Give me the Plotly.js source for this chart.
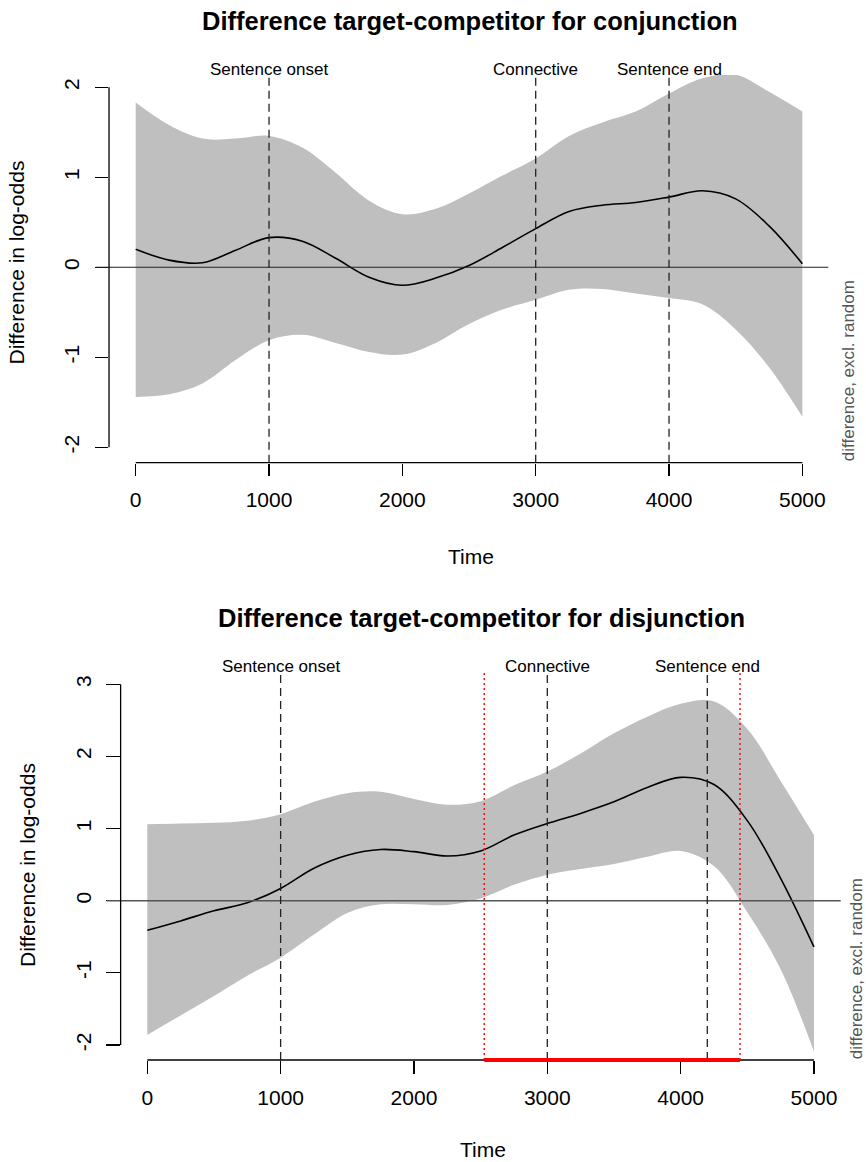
<!DOCTYPE html>
<html>
<head>
<meta charset="utf-8">
<script src="https://cdn.plot.ly/plotly-3.0.1.min.js"></script>
<style>html,body{margin:0;padding:0;background:#fff;}#chart{width:866px;height:1162px;}</style>
</head>
<body>
<div id="chart"></div>
<script>
// ---- data: conjunction (top panel) ----
const timeTop  = [0, 250, 500, 750, 1000, 1250, 1500, 1750, 2000, 2250, 2500, 2750, 3000, 3250, 3500, 3750, 4000, 4250, 4500, 4750, 5000];
const upperTop = [1.83, 1.58, 1.43, 1.43, 1.46, 1.33, 1.05, 0.74, 0.59, 0.65, 0.82, 1.02, 1.21, 1.46, 1.61, 1.73, 1.93, 2.10, 2.14, 1.95, 1.73];
const lowerTop = [-1.44, -1.41, -1.29, -1.03, -0.81, -0.75, -0.84, -0.94, -0.97, -0.84, -0.63, -0.47, -0.36, -0.25, -0.24, -0.29, -0.34, -0.41, -0.69, -1.11, -1.66];
const fitTop   = [0.20, 0.08, 0.05, 0.19, 0.33, 0.29, 0.10, -0.11, -0.20, -0.12, 0.02, 0.22, 0.43, 0.62, 0.69, 0.72, 0.78, 0.85, 0.76, 0.46, 0.04];
const eventsTop = [1000, 3000, 4000];

// ---- data: disjunction (bottom panel) ----
const timeBottom  = [0, 250, 500, 750, 1000, 1250, 1500, 1750, 2000, 2250, 2500, 2750, 3000, 3250, 3500, 3750, 4000, 4250, 4500, 4750, 5000];
const upperBottom = [1.06, 1.07, 1.08, 1.11, 1.20, 1.37, 1.49, 1.51, 1.41, 1.33, 1.38, 1.60, 1.79, 2.04, 2.32, 2.55, 2.73, 2.76, 2.38, 1.66, 0.91];
const lowerBottom = [-1.86, -1.59, -1.32, -1.04, -0.79, -0.47, -0.17, -0.05, -0.05, -0.06, 0.03, 0.22, 0.36, 0.44, 0.51, 0.61, 0.69, 0.48, -0.16, -0.95, -2.09];
const fitBottom   = [-0.41, -0.28, -0.14, -0.03, 0.17, 0.45, 0.63, 0.71, 0.68, 0.62, 0.69, 0.91, 1.07, 1.21, 1.37, 1.57, 1.71, 1.61, 1.11, 0.31, -0.64];
const eventsBottom = [1000, 3000, 4200];
const sigRegion = [2527, 4445];

// ---- labels / ticks ----
const eventLabels = ['Sentence onset', 'Connective', 'Sentence end'];
const titles = ['Difference target-competitor for conjunction', 'Difference target-competitor for disjunction'];
const xTicks = [0, 1000, 2000, 3000, 4000, 5000];
const yTicksTop = [-2, -1, 0, 1, 2];
const yTicksBottom = [-2, -1, 0, 1, 2, 3];
const xTitle = 'Time';
const yTitle = 'Difference in log-odds';
const sideNote = 'difference, excl. random';

// ---- geometry (pixels) ----
const W = 866, H = 1162;
const FONT = 'Liberation Sans, Arial, Helvetica, sans-serif';
const px = p => p / W;
const py = p => 1 - p / H;

const panels = [
  {xl: 109.03, xr: 829.03, yt: 75.0, yb: 462.7, yr: [-2.1711, 2.1367], zl: 95.7, zr: 828.3, zcol: '#222', zw: 1.1,
   titleY: 21, labY: 70, timeY: 556, timeAnchor: 'middle', yTitleX: 16, yTitleY: 262.5, noteX: 848, yTicks: yTicksTop, events: eventsTop},
  {xl: 120.63, xr: 840.63, yt: 671.7, yb: 1060.0, yr: [-2.2082, 3.1744], zl: 106.7, zr: 840.7, zcol: '#555', zw: 1.5,
   titleY: 618, labY: 666.7, timeY: 1162, timeAnchor: 'bottom', yTitleX: 28, yTitleY: 865, noteX: 856.7, yTicks: yTicksBottom, events: eventsBottom}
];

const series = [
  {t: timeTop, up: upperTop, lo: lowerTop, fit: fitTop},
  {t: timeBottom, up: upperBottom, lo: lowerBottom, fit: fitBottom}
];

const traces = [];
const shapes = [];
const annotations = [];
const layout = {
  width: W, height: H, margin: {l: 0, r: 0, t: 0, b: 0, pad: 0},
  paper_bgcolor: '#fff', plot_bgcolor: 'rgba(0,0,0,0)', showlegend: false,
  font: {family: FONT, color: '#000'}
};

panels.forEach((p, i) => {
  const n = i === 0 ? '' : '2';
  const xa = 'x' + n, ya = 'y' + n;
  const s = series[i];
  traces.push({x: s.t, y: s.lo, xaxis: xa, yaxis: ya, mode: 'lines', line: {width: 0, shape: 'spline', color: '#BFBFBF'}, hoverinfo: 'skip'});
  traces.push({x: s.t, y: s.up, xaxis: xa, yaxis: ya, mode: 'lines', fill: 'tonexty', fillcolor: '#BFBFBF', line: {width: 0, shape: 'spline', color: '#BFBFBF'}, hoverinfo: 'skip'});
  traces.push({x: s.t, y: s.fit, xaxis: xa, yaxis: ya, mode: 'lines', line: {width: 1.6, shape: 'spline', color: '#000'}});

  layout['xaxis' + n] = {
    domain: [px(p.xl), px(p.xr)], range: [-200, 5200], anchor: ya,
    showgrid: false, zeroline: false, showline: false,
    ticks: 'outside', ticklen: 12.5, tickwidth: 1.3, tickcolor: '#000',
    tickvals: xTicks, ticktext: xTicks.map(String), tickfont: {size: 21, family: FONT, color: '#000'},
    ticklabelstandoff: 6, fixedrange: true
  };
  layout['yaxis' + n] = {
    domain: [py(p.yb), py(p.yt)], range: p.yr, anchor: xa,
    showgrid: false, zeroline: false, showline: false,
    ticks: 'outside', ticklen: 13.5, tickwidth: 1.3, tickcolor: '#000',
    tickvals: p.yTicks, ticktext: p.yTicks.map(String), tickangle: -90,
    tickfont: {size: 21, family: FONT, color: '#000'}, ticklabelstandoff: 7, fixedrange: true
  };

  // zero line
  shapes.push({type: 'line', xref: 'paper', yref: ya, x0: px(p.zl), x1: px(p.zr), y0: 0, y1: 0, line: {color: p.zcol, width: p.zw}});
  // event lines
  p.events.forEach(ev => {
    shapes.push({type: 'line', xref: xa, yref: ya + ' domain', x0: ev, x1: ev, y0: 0, y1: 1, line: {color: '#222', width: 1.3, dash: '8px,5px'}});
  });
  // axis lines (R style, spanning tick range only)
  shapes.push({type: 'line', xref: xa, yref: 'paper', x0: xTicks[0], x1: xTicks[xTicks.length - 1], y0: py(p.yb), y1: py(p.yb), line: {color: '#000', width: 1.3}});
  shapes.push({type: 'line', xref: 'paper', yref: ya, x0: px(p.xl), x1: px(p.xl), y0: p.yTicks[0], y1: p.yTicks[p.yTicks.length - 1], line: {color: '#000', width: 1.3}});

  // titles and labels
  annotations.push({text: '<b>' + titles[i] + '</b>', xref: 'paper', yref: 'paper', x: px((p.xl + p.xr) / 2 + 1), y: py(p.titleY), xanchor: 'center', yanchor: 'middle', showarrow: false, font: {size: 25.5, family: FONT, color: '#000'}});
  p.events.forEach((ev, k) => {
    annotations.push({text: eventLabels[k], xref: xa, yref: 'paper', x: ev, y: py(p.labY), xanchor: 'center', yanchor: 'middle', showarrow: false, font: {size: 17, family: FONT, color: '#000'}});
  });
  annotations.push({text: xTitle, xref: 'paper', yref: 'paper', x: px((p.xl + p.xr) / 2 + 2), y: py(p.timeY), xanchor: 'center', yanchor: p.timeAnchor, borderpad: 0, showarrow: false, font: {size: 21, family: FONT, color: '#000'}});
  annotations.push({text: yTitle, xref: 'paper', yref: 'paper', x: px(p.yTitleX), y: py(p.yTitleY), xanchor: 'center', yanchor: 'middle', textangle: -90, showarrow: false, font: {size: 21, family: FONT, color: '#000'}});
  annotations.push({text: sideNote, xref: 'paper', yref: 'paper', x: px(p.noteX), y: py(p.yb - 91.5), xanchor: 'center', yanchor: 'middle', textangle: -90, showarrow: false, font: {size: 17, family: FONT, color: '#555'}});
});

// significant region (bottom panel)
sigRegion.forEach(v => {
  shapes.push({type: 'line', xref: 'x2', yref: 'y2 domain', x0: v, x1: v, y0: 0, y1: 1, line: {color: '#FF0000', width: 1.4, dash: '2px,3px'}});
});
shapes.push({type: 'line', xref: 'x2', yref: 'paper', x0: sigRegion[0], x1: sigRegion[1], y0: py(panels[1].yb), y1: py(panels[1].yb), line: {color: '#FF0000', width: 4}});

layout.shapes = shapes;
layout.annotations = annotations;

Plotly.newPlot('chart', traces, layout, {displayModeBar: false, staticPlot: true});
</script>
</body>
</html>
